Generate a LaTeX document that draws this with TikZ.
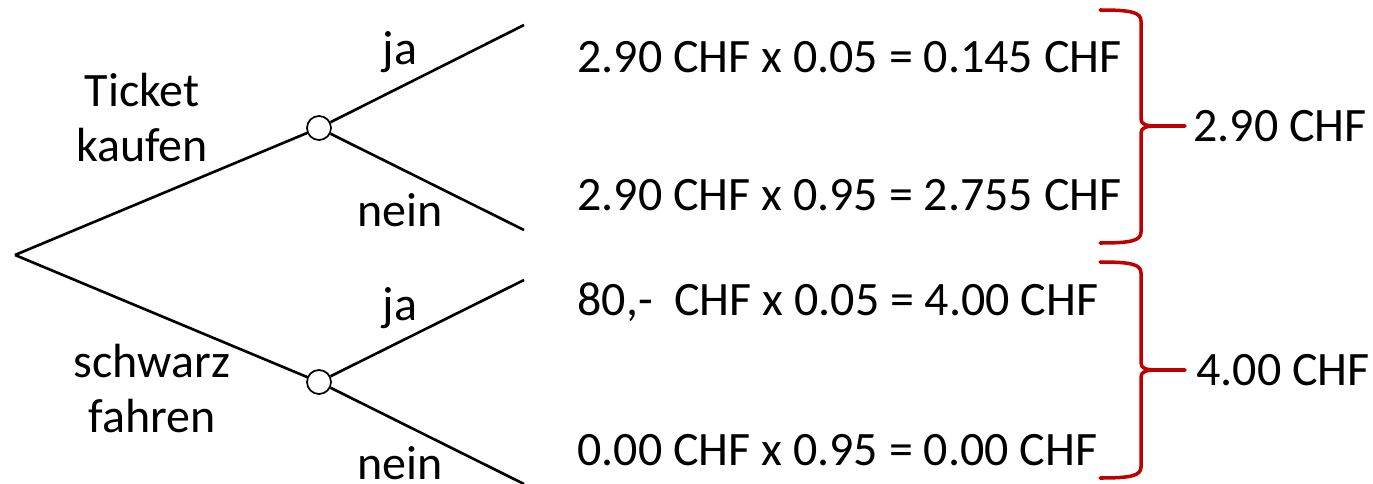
\documentclass[tikz,border=0pt]{standalone}
\usepackage{fontspec}
\setmainfont{Carlito}
\usepackage{tikz}

\tikzset{
  ast/.style={line width=1.5pt},
  knoten/.style={circle, draw, fill=white, line width=1pt, minimum size=0.48cm, inner sep=0pt},
  klammer/.style={draw=red!75!black, line width=2pt, line cap=round, line join=round},
  betrag/.style={anchor=base west, inner sep=0pt}
}

\begin{document}
\begin{tikzpicture}[font=\fontsize{27.3}{31}\selectfont]
        \useasboundingbox (0,0) rectangle (27.46,9.66);

        % Baum
        \coordinate (wurzel) at (0.30,4.56);
        \coordinate (kaufja) at (10.48,9.16);
        \coordinate (kaufnein) at (10.48,5.06);
        \coordinate (schwarzja) at (10.48,4.06);
        \coordinate (schwarznein) at (10.48,-0.02);

        \draw [ast] (wurzel) -- (6.38,7.10) coordinate (k);
        \draw [ast] (wurzel) -- (6.38,2.02) coordinate (s);
        \node [knoten] (kauf) at (k) {};
        \node [knoten] (schwarz) at (s) {};

        \draw [ast] (kauf) -- (kaufja);
        \draw [ast] (kauf) -- (kaufnein);
        \draw [ast] (schwarz) -- (schwarzja);
        \draw [ast] (schwarz) -- (schwarznein);

        \node [align=center] (tkauf) at (2.84,7.31) {Ticket\\kaufen};
        \node [align=center] (tschwarz) at (3.04,1.89) {schwarz\\fahren};

        \node (kj) at (8.00,8.62) {ja};
        \node (kn) at (8.00,5.46) {nein};
        \node (sj) at (8.00,3.50) {ja};
        \node (sn) at (8.00,0.40) {nein};

        % Erwartungswerte
        \node [betrag] (w1) at (11.54,8.22) {2.90 CHF x 0.05 = 0.145 CHF};
        \node [betrag] (w2) at (11.54,5.46) {2.90 CHF x 0.95 = 2.755 CHF};
        \node [betrag] (w3) at (11.54,3.36) {80,-\ \ CHF x 0.05 = 4.00 CHF};
        \node [betrag] (w4) at (11.54,0.36) {0.00 CHF x 0.95 = 0.00 CHF};

        % Klammern
        \foreach \ty/\my/\by in {9.46/7.14/4.80, 4.42/2.26/0.10} {
          \draw [klammer] (22.00,\ty) .. controls (22.60,\ty) and (22.82,\ty-0.04) .. (22.82,\ty-0.22)
            -- (22.82,\my+0.14) .. controls (22.82,\my+0.03) and (22.92,\my) .. (23.15,\my) -- (23.70,\my);
          \draw [klammer] (23.15,\my) .. controls (22.92,\my) and (22.82,\my-0.03) .. (22.82,\my-0.14)
            -- (22.82,\by+0.22) .. controls (22.82,\by+0.04) and (22.60,\by) .. (22.00,\by);
        }

        \node [betrag] (s1) at (23.86,6.84) {2.90 CHF};
        \node [betrag] (s2) at (23.92,1.96) {4.00 CHF};
\end{tikzpicture}
\end{document}
